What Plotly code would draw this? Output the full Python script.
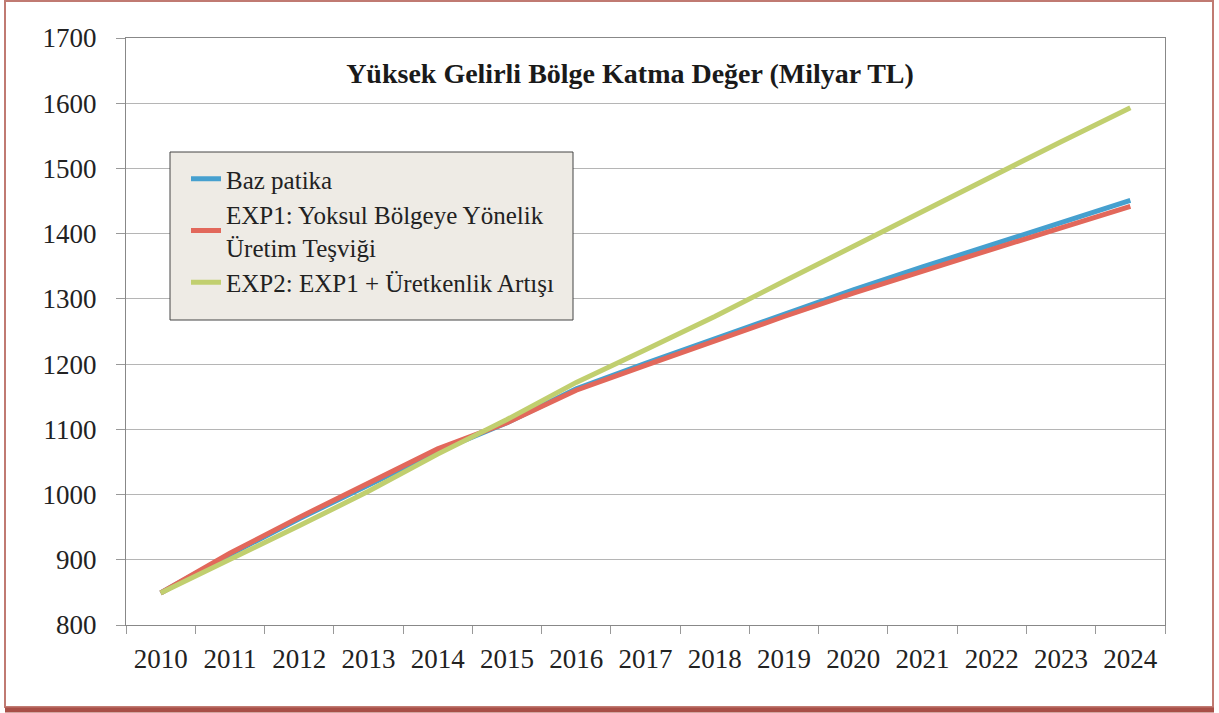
import plotly.graph_objects as go

years = [str(y) for y in range(2010, 2025)]
baz = [849, 908, 963, 1015, 1066, 1110, 1162, 1201, 1239, 1277, 1314, 1349, 1383, 1417, 1451]
exp1 = [849, 910, 965, 1018, 1070, 1110, 1160, 1198, 1236, 1273, 1309, 1343, 1376, 1409, 1442]
exp2 = [849, 900, 952, 1005, 1062, 1115, 1172, 1222, 1273, 1327, 1381, 1435, 1489, 1541, 1593]

names = ["Baz patika", "EXP1: Yoksul Bölgeye Yönelik<br>Üretim Teşviği", "EXP2: EXP1 + Üretkenlik Artışı"]
colors = ["#46a0cf", "#e2685b", "#c1cf6f"]
title = "Yüksek Gelirli Bölge Katma Değer (Milyar TL)"

W, H = 1219, 713
L, R, T, B = 126, 1165, 38, 625
FONT = "Liberation Serif, Times New Roman, Tinos, serif"

fig = go.Figure()
for vals, nm, c in zip([baz, exp1, exp2], names, colors):
    fig.add_trace(go.Scatter(x=years, y=vals, name=nm, mode="lines",
                             line=dict(color=c, width=5)))

def px(x):
    return (x - L) / (R - L)

def py(y):
    return (B - y) / (B - T)

fig.update_layout(
    width=W, height=H,
    margin=dict(l=L, r=W - R, t=T, b=H - B, pad=0),
    paper_bgcolor="white", plot_bgcolor="white",
    font=dict(family=FONT, color="#222222", size=20),
    title=dict(text="<b>" + title + "</b>", x=px(630), xref="paper", xanchor="center",
               y=1 - 73 / H, yref="container", yanchor="middle",
               font=dict(family=FONT, size=28, color="#1a1a1a")),
    showlegend=True,
    legend=dict(x=px(186), y=py(156), xanchor="left", yanchor="top",
                bgcolor="rgba(0,0,0,0)", borderwidth=0,
                font=dict(family=FONT, size=25, color="#222222"),
                itemwidth=30),
    xaxis=dict(type="category", range=[-0.5, 14.5], showgrid=False,
               tickson="boundaries", ticks="outside", ticklen=8, tickcolor="#999999",
               showline=True, linecolor="#888888", linewidth=1, mirror=True,
               tickfont=dict(family=FONT, size=27, color="#222222"),
               ticklabelstandoff=10),
    yaxis=dict(range=[800, 1700], dtick=100, showgrid=True, gridcolor="#b5b5b5", gridwidth=1,
               ticks="outside", ticklen=9, tickcolor="#999999",
               showline=True, linecolor="#888888", linewidth=1, mirror=True,
               tickfont=dict(family=FONT, size=27, color="#222222"),
               ticklabelstandoff=14, zeroline=False),
)

# legend box
fig.add_shape(type="rect", xref="paper", yref="paper",
              x0=px(170), x1=px(573), y0=py(320), y1=py(152),
              fillcolor="#eeebe5", line=dict(color="#444444", width=1), layer="above")

# outer border of the chart box
fig.add_shape(type="rect", xref="paper", yref="paper",
              x0=px(5), x1=px(1213), y0=py(707), y1=py(1),
              line=dict(color="#c07a72", width=2), layer="below")
fig.add_shape(type="line", xref="paper", yref="paper",
              x0=px(5), x1=px(1214), y0=py(710), y1=py(710),
              line=dict(color="#a84f47", width=5), layer="below")

fig.write_html("out.html", config={"displayModeBar": False},
               post_script="document.body.style.margin='0';document.body.style.overflow='hidden';")
